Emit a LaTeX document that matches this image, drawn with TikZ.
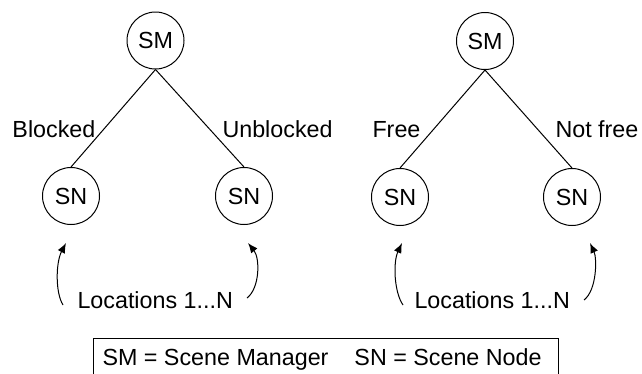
\documentclass[tikz,border=0pt]{standalone}
\usepackage{fontspec}
\setmainfont{Liberation Sans}
\usetikzlibrary{arrows.meta}
\begin{document}
\begin{tikzpicture}[x=1pt,y=-1pt,line width=1pt,
  every node/.style={font=\fontsize{23.3}{28}\selectfont},
  circ/.style={draw,circle,minimum size=57pt,inner sep=0pt},
  lbl/.style={anchor=base west,inner sep=0pt},
  edge/.style={draw},
  locarrow/.style={-{Latex[length=10pt,width=8pt]}}]
\useasboundingbox (0,0) rectangle (642,373);
% left tree
\node[circ] (smL) at (155.5,40.5) {SM};
\node[circ] (snLL) at (71,196) {SN};
\node[circ] (snLR) at (244,196) {SN};
\draw (smL.south) -- (snLL.north);
\draw (smL.south) -- (snLR.north);
\node[lbl] (blk) at (12,137) {Blocked};
\node[lbl] (unb) at (222,137) {Unblocked};
\node[lbl] (locL) at (77,308) {Locations 1...N};
\coordinate (a1s) at (63,305);
\coordinate (a1e) at (66,243);
\coordinate (a2s) at (247,298);
\coordinate (a2e) at (248,243);
\draw[locarrow] (a1s) .. controls (55,292) and (56,262) .. (a1e);
\draw[locarrow] (a2s) .. controls (260,288) and (260,258) .. (a2e);
% right tree
\node[circ] (smR) at (485,41) {SM};
\node[circ] (snRL) at (400,197) {SN};
\node[circ] (snRR) at (572,197) {SN};
\draw (smR.south) -- (snRL.north);
\draw (smR.south) -- (snRR.north);
\node[lbl] (free) at (372,137) {Free};
\node[lbl] (nfree) at (555,137) {Not free};
\node[lbl] (locR) at (414,308) {Locations 1...N};
\coordinate (b1s) at (403,305);
\coordinate (b1e) at (402,243);
\coordinate (b2s) at (584,300);
\coordinate (b2e) at (590,243);
\draw[locarrow] (b1s) .. controls (394,292) and (393,262) .. (b1e);
\draw[locarrow] (b2s) .. controls (597,290) and (597,258) .. (b2e);
% legend
\draw (93,338) rectangle (558,390);
\node[lbl] (legend) at (102,365) {SM = Scene Manager\hspace{26pt}SN = Scene Node};
\end{tikzpicture}
\end{document}
